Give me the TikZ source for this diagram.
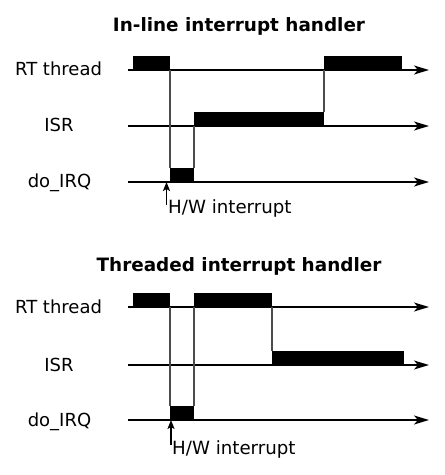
\documentclass[tikz,border=0pt]{standalone}
\usepackage{fontspec}
\setmainfont{DejaVu Sans}
\usetikzlibrary{arrows.meta}
\begin{document}
\begin{tikzpicture}[x=1pt,y=-1pt,
 axis/.style={line width=1.6pt,-{Stealth[length=15pt,width=9pt,inset=4pt]}},
 blk/.style={fill=black,draw=none,inner sep=0pt,outer sep=0pt,minimum height=14pt,anchor=south west},
 vline/.style={line width=1.1pt,black!70},
 lbl/.style={font=\fontsize{18}{21}\selectfont,anchor=base,inner sep=0pt},
 ttl/.style={font=\fontsize{18.4}{21}\selectfont\bfseries,anchor=base,inner sep=0pt},
 hwtxt/.style={font=\fontsize{18.2}{21}\selectfont,anchor=base west,inner sep=0pt},
 hw/.style={line width=1.4pt,-{Stealth[length=9pt,width=7pt,inset=2pt]}}]
\useasboundingbox (0,0) rectangle (445,475);
% ---------- top diagram ----------
\node[ttl] (t1) at (239,31.5) {In-line interrupt handler};
\node[lbl] (l1) at (58.5,75) {RT thread};
\node[lbl] (l2) at (59,131) {ISR};
\node[lbl] (l3) at (59.5,187) {do\_IRQ};
\coordinate (a1s) at (128,70);  \coordinate (a1e) at (429,70);
\coordinate (a2s) at (128,126); \coordinate (a2e) at (429,126);
\coordinate (a3s) at (128,182); \coordinate (a3e) at (429,182);
\draw[axis] (a1s) -- (a1e);
\draw[axis] (a2s) -- (a2e);
\draw[axis] (a3s) -- (a3e);
\node[blk,minimum width=37pt] (rt1) at (133,70) {};
\node[blk,minimum width=78pt] (rt2) at (324,70) {};
\node[blk,minimum width=130pt] (isr1) at (194,126) {};
\node[blk,minimum width=24pt] (irq1) at (170,182) {};
\draw[vline] (rt1.south east) -- (irq1.north west);
\draw[vline] (isr1.south west) -- (irq1.north east);
\draw[vline] (rt2.south west) -- (isr1.north east);
\coordinate (hw1s) at (166.5,205); \coordinate (hw1e) at (166.5,182);
\draw[hw] (hw1s) -- (hw1e);
\node[hwtxt] (hwt1) at (168,213) {H/W interrupt};
% ---------- bottom diagram ----------
\node[ttl] (t2) at (239,271) {Threaded interrupt handler};
\node[lbl] (m1) at (58.5,313) {RT thread};
\node[lbl] (m2) at (59,371) {ISR};
\node[lbl] (m3) at (59.5,426) {do\_IRQ};
\coordinate (b1s) at (128,307); \coordinate (b1e) at (429,307);
\coordinate (b2s) at (128,365); \coordinate (b2e) at (429,365);
\coordinate (b3s) at (128,420); \coordinate (b3e) at (429,420);
\draw[axis] (b1s) -- (b1e);
\draw[axis] (b2s) -- (b2e);
\draw[axis] (b3s) -- (b3e);
\node[blk,minimum width=37pt] (rt3) at (133,307) {};
\node[blk,minimum width=78pt] (rt4) at (194,307) {};
\node[blk,minimum width=132pt] (isr2) at (272,365) {};
\node[blk,minimum width=24pt] (irq2) at (170,420) {};
\draw[vline] (rt3.south east) -- (irq2.north west);
\draw[vline] (rt4.south west) -- (irq2.north east);
\draw[vline] (rt4.south east) -- (isr2.north west);
\coordinate (hw2s) at (171,445); \coordinate (hw2e) at (171,420);
\draw[hw] (hw2s) -- (hw2e);
\node[hwtxt] (hwt2) at (172,454) {H/W interrupt};
\end{tikzpicture}
\end{document}
